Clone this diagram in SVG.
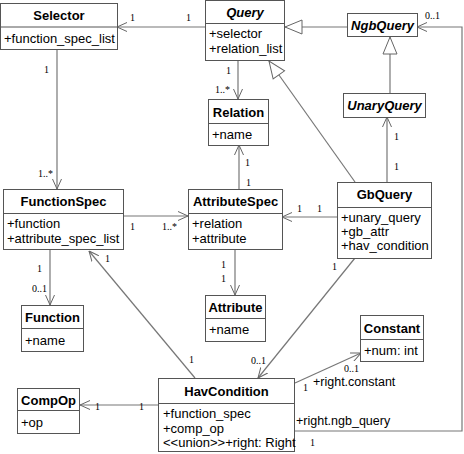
<svg xmlns="http://www.w3.org/2000/svg" width="464" height="454" viewBox="0 0 464 454">
<style>
.box{fill:#fff;stroke:#555;stroke-width:1}
.sep{stroke:#555;stroke-width:1}
.nm{font-family:"Liberation Sans",Arial,sans-serif;font-size:13px;font-weight:bold;text-anchor:middle;fill:#000}
.it{font-style:italic}
.at{font-family:"Liberation Sans",Arial,sans-serif;font-size:13px;fill:#000}
.lb{font-family:"Liberation Sans",Arial,sans-serif;font-size:12.5px;fill:#000}
.m{font-family:"Liberation Serif","Times New Roman",serif;font-size:10px;fill:#000}
.c{fill:none;stroke:#777;stroke-width:1.2}
</style>
<defs>
<marker id="open" viewBox="0 0 10 10" refX="10" refY="5" markerWidth="10" markerHeight="10" markerUnits="userSpaceOnUse" orient="auto">
<path d="M0,0.5 L10,5 L0,9.5" fill="none" stroke="#666" stroke-width="1"/>
</marker>
<marker id="tri" viewBox="-1 -1 19 16" refX="17" refY="7" markerWidth="19" markerHeight="16" markerUnits="userSpaceOnUse" orient="auto">
<path d="M0,0 L17,7 L0,14 Z" fill="#fff" stroke="#666" stroke-width="1"/>
</marker>
</defs>
<rect width="464" height="454" fill="#fff"/>
<g id="connectors">
<path class="c" d="M205,27 L117,27" marker-end="url(#open)"/>
<path class="c" d="M347,27 L285,27" marker-end="url(#tri)"/>
<path class="c" d="M390,93 L390,37" marker-end="url(#tri)"/>
<path class="c" d="M355,182 L269,61" marker-end="url(#tri)"/>
<path class="c" d="M387,182 L387,117" marker-end="url(#open)"/>
<path class="c" d="M238,60 L238,99" marker-end="url(#open)"/>
<path class="c" d="M57,49 L57,189" marker-end="url(#open)"/>
<path class="c" d="M123,216 L188,216" marker-end="url(#open)"/>
<path class="c" d="M239,189 L239,145" marker-end="url(#open)"/>
<path class="c" d="M337,217 L282,217" marker-end="url(#open)"/>
<path class="c" d="M235,249 L235,295" marker-end="url(#open)"/>
<path class="c" d="M50,249 L50,305" marker-end="url(#open)"/>
<path class="c" d="M195,378 L89,251" marker-end="url(#open)"/>
<path class="c" d="M355,258 L258,378" marker-end="url(#open)"/>
<path class="c" d="M158,405 L80,405" marker-end="url(#open)"/>
<path class="c" d="M295,383 L361,353" marker-end="url(#open)"/>
<path class="c" d="M294,431 L462,431 L462,27 L417,27" marker-end="url(#open)"/>
<text class="m" x="130" y="21">1</text>
<text class="m" x="186" y="21">1</text>
<text class="m" x="425" y="19">0..1</text>
<text class="m" x="394" y="140">1</text>
<text class="m" x="394" y="170">1</text>
<text class="m" x="226" y="74">1</text>
<text class="m" x="215" y="93">1..*</text>
<text class="m" x="44" y="73">1</text>
<text class="m" x="38" y="177">1..*</text>
<text class="m" x="130" y="230">1</text>
<text class="m" x="162" y="230">1..*</text>
<text class="m" x="245" y="166">1</text>
<text class="m" x="246" y="186">1</text>
<text class="m" x="297" y="212">1</text>
<text class="m" x="317" y="212">1</text>
<text class="m" x="221" y="268">1</text>
<text class="m" x="221" y="282">1</text>
<text class="m" x="37" y="272">1</text>
<text class="m" x="32" y="292">0..1</text>
<text class="m" x="105" y="262">1</text>
<text class="m" x="189" y="363">1</text>
<text class="m" x="332" y="270">1</text>
<text class="m" x="251" y="364">0..1</text>
<text class="m" x="95" y="410">1</text>
<text class="m" x="139" y="410">1</text>
<text class="m" x="303" y="391">1</text>
<text class="m" x="344" y="372">0..1</text>
<text class="lb" x="313" y="386">+right.constant</text>
<text class="lb" x="296" y="425">+right.ngb_query</text>
<text class="m" x="310" y="446">1</text>
</g>
<g id="Selector">
<rect class="box" x="0.5" y="3.5" width="117" height="46"/>
<line class="sep" x1="0.5" y1="27" x2="117.5" y2="27"/>
<text class="nm" x="59" y="20">Selector</text>
<text class="at" x="4" y="43">+function_spec_list</text>
</g>
<g id="Query">
<rect class="box" x="205.5" y="0.5" width="79" height="60"/>
<line class="sep" x1="205.5" y1="23.5" x2="284.5" y2="23.5"/>
<text class="nm it" x="245" y="17">Query</text>
<text class="at" x="209" y="38">+selector</text>
<text class="at" x="209" y="53">+relation_list</text>
</g>
<g id="NgbQuery">
<rect class="box" x="347.5" y="13.5" width="70" height="23"/>
<text class="nm it" x="382.5" y="30">NgbQuery</text>
</g>
<g id="UnaryQuery">
<rect class="box" x="343.5" y="93.5" width="82" height="24"/>
<text class="nm it" x="384.5" y="110">UnaryQuery</text>
</g>
<g id="Relation">
<rect class="box" x="208.5" y="99.5" width="60" height="46"/>
<line class="sep" x1="208.5" y1="123.5" x2="268.5" y2="123.5"/>
<text class="nm" x="238.5" y="117">Relation</text>
<text class="at" x="212" y="139">+name</text>
</g>
<g id="FunctionSpec">
<rect class="box" x="3.5" y="189.5" width="120" height="60"/>
<line class="sep" x1="3.5" y1="213.5" x2="123.5" y2="213.5"/>
<text class="nm" x="63.5" y="206">FunctionSpec</text>
<text class="at" x="7" y="228">+function</text>
<text class="at" x="7" y="243">+attribute_spec_list</text>
</g>
<g id="AttributeSpec">
<rect class="box" x="188.5" y="189.5" width="94" height="60"/>
<line class="sep" x1="188.5" y1="213.5" x2="282.5" y2="213.5"/>
<text class="nm" x="235.5" y="206">AttributeSpec</text>
<text class="at" x="192" y="228">+relation</text>
<text class="at" x="192" y="243">+attribute</text>
</g>
<g id="GbQuery">
<rect class="box" x="337.5" y="182.5" width="94" height="76"/>
<line class="sep" x1="337.5" y1="207.5" x2="431.5" y2="207.5"/>
<text class="nm" x="384.5" y="199">GbQuery</text>
<text class="at" x="341" y="222">+unary_query</text>
<text class="at" x="341" y="236">+gb_attr</text>
<text class="at" x="341" y="250">+hav_condition</text>
</g>
<g id="Attribute">
<rect class="box" x="205.5" y="295.5" width="60" height="46"/>
<line class="sep" x1="205.5" y1="318.5" x2="265.5" y2="318.5"/>
<text class="nm" x="235.5" y="312">Attribute</text>
<text class="at" x="209" y="334">+name</text>
</g>
<g id="Function">
<rect class="box" x="21.5" y="305.5" width="62" height="46"/>
<line class="sep" x1="21.5" y1="328.5" x2="83.5" y2="328.5"/>
<text class="nm" x="52.5" y="322">Function</text>
<text class="at" x="25" y="345">+name</text>
</g>
<g id="CompOp">
<rect class="box" x="17.5" y="388.5" width="62" height="45"/>
<line class="sep" x1="17.5" y1="410.5" x2="79.5" y2="410.5"/>
<text class="nm" x="48.5" y="405">CompOp</text>
<text class="at" x="21" y="427">+op</text>
</g>
<g id="HavCondition">
<rect class="box" x="158.5" y="378.5" width="136" height="73"/>
<line class="sep" x1="158.5" y1="403.5" x2="294.5" y2="403.5"/>
<text class="nm" x="226.5" y="396">HavCondition</text>
<text class="at" x="163" y="418">+function_spec</text>
<text class="at" x="163" y="433">+comp_op</text>
<text class="at" x="163" y="447">&lt;&lt;union&gt;&gt;+right: Right</text>
</g>
<g id="Constant">
<rect class="box" x="360.5" y="315.5" width="63" height="46"/>
<line class="sep" x1="360.5" y1="339.5" x2="423.5" y2="339.5"/>
<text class="nm" x="392" y="333">Constant</text>
<text class="at" x="364" y="355">+num: int</text>
</g>
</svg>
